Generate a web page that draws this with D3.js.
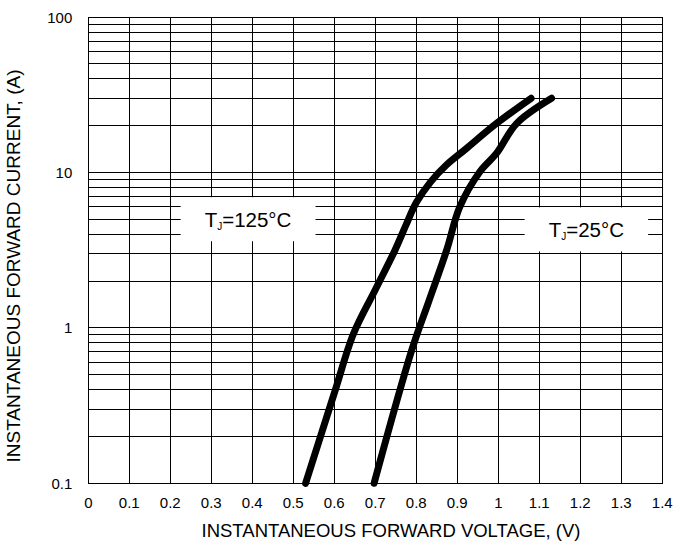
<!DOCTYPE html>
<html>
<head>
<meta charset="UTF-8">
<script src="https://d3js.org/d3.v7.min.js"></script>
<style>
  body { margin: 0; background: #fff; }
  text { font-family: "Liberation Sans", Arial, sans-serif; fill: #000; }
</style>
</head>
<body>
<div id="chart"></div>
<script>
// forward voltage (V) vs forward current (A)
const v125 = [0.530, 0.600, 0.647, 0.700, 0.748, 0.775, 0.800, 0.835, 0.874, 0.920, 0.996, 1.080];
const i125 = [0.10, 0.38, 0.92, 1.76, 3.16, 4.6, 6.4, 8.7, 11.2, 14.1, 20.7, 30];
const v25 = [0.697, 0.789, 0.830, 0.874, 0.906, 0.955, 0.996, 1.045, 1.130];
const i25 = [0.10, 0.72, 1.47, 3.16, 6.0, 10.1, 13.3, 20.7, 30];

const xTicks = [0, 0.1, 0.2, 0.3, 0.4, 0.5, 0.6, 0.7, 0.8, 0.9, 1, 1.1, 1.2, 1.3, 1.4];
const yTicks = [0.1, 1, 10, 100];

const labels = [
  { main: "T", sub: "J", rest: "=125°C", v: 0.3895, i: 5.0 },
  { main: "T", sub: "J", rest: "=25°C", v: 1.2146, i: 4.3 }
];

const W = 675, H = 544;
const m = { left: 88.3, top: 17, right: 12.7, bottom: 60.7 };

const svg = d3.select("#chart").append("svg").attr("width", W).attr("height", H);

const x = d3.scaleLinear().domain([0, 1.4]).range([m.left, W - m.right]);
const y = d3.scaleLog().domain([0.1, 100]).range([H - m.bottom, m.top]);

// grid
const grid = svg.append("g").attr("stroke", "#000").attr("stroke-width", 1).attr("shape-rendering", "crispEdges");
grid.selectAll(".vg").data(xTicks).enter().append("line")
  .attr("x1", d => x(d)).attr("x2", d => x(d))
  .attr("y1", y(0.1)).attr("y2", y(100));
grid.selectAll(".hg").data(y.ticks()).enter().append("line")
  .attr("x1", x(0)).attr("x2", x(1.4))
  .attr("y1", d => y(d)).attr("y2", d => y(d));
grid.append("rect")
  .attr("x", x(0)).attr("y", y(100))
  .attr("width", x(1.4) - x(0)).attr("height", y(0.1) - y(100))
  .attr("fill", "none");

// tick labels
svg.append("g").selectAll("text").data(xTicks).enter().append("text")
  .attr("x", d => x(d)).attr("y", y(0.1) + 25)
  .attr("text-anchor", "middle").attr("font-size", 15)
  .text(d => d);
svg.append("g").selectAll("text").data(yTicks).enter().append("text")
  .attr("x", m.left - 16).attr("y", d => y(d) + 5.5)
  .attr("text-anchor", "end").attr("font-size", 15)
  .text(d => d);

// axis titles
svg.append("text")
  .attr("x", 391).attr("y", 537)
  .attr("text-anchor", "middle").attr("font-size", 18.5)
  .text("INSTANTANEOUS FORWARD VOLTAGE, (V)");
svg.append("text")
  .attr("transform", "translate(20,266) rotate(-90)")
  .attr("text-anchor", "middle").attr("font-size", 19)
  .text("INSTANTANEOUS FORWARD CURRENT, (A)");

// curves
const line = d3.line().x(d => x(d[0])).y(d => y(d[1])).curve(d3.curveCatmullRom.alpha(0.5));
[[v125, i125], [v25, i25]].forEach(([vs, is]) => {
  svg.append("path")
    .datum(vs.map((v, k) => [v, is[k]]))
    .attr("d", line)
    .attr("fill", "none").attr("stroke", "#000")
    .attr("stroke-width", 7).attr("stroke-linecap", "round").attr("stroke-linejoin", "round");
});

// temperature labels on white boxes
labels.forEach(l => {
  const g = svg.append("g");
  const box = g.append("rect").attr("fill", "#fff");
  const t = g.append("text")
    .attr("x", x(l.v)).attr("y", y(l.i) + 7.5)
    .attr("text-anchor", "middle").attr("font-size", 20.5);
  t.append("tspan").text(l.main);
  t.append("tspan").attr("font-size", 10).attr("dy", 3).text(l.sub);
  t.append("tspan").attr("dy", -3).text(l.rest);
  const b = t.node().getBBox();
  box.attr("x", b.x - 24).attr("y", y(l.i) - 22)
    .attr("width", b.width + 48).attr("height", 44);
});
</script>
</body>
</html>
